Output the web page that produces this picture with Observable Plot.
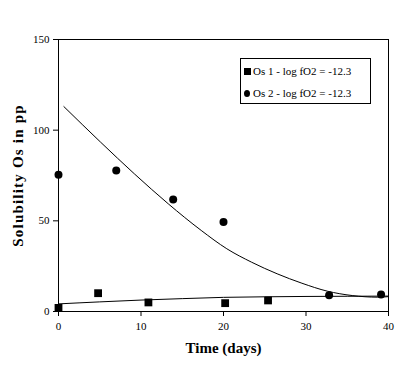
<!DOCTYPE html>
<html><head><meta charset="utf-8">
<script src="https://cdn.jsdelivr.net/npm/d3@7"></script>
<script src="https://cdn.jsdelivr.net/npm/@observablehq/plot@0.6"></script>
<style>
body{margin:0;background:#fff;}
#wrap{position:relative;width:416px;height:372px;font-family:"Liberation Serif","DejaVu Serif",serif;}
#legend{position:absolute;left:240px;top:58px;width:129px;height:44px;border:1px solid #000;background:#fff;font-size:11px;font-family:"Liberation Serif","DejaVu Serif",serif;}
#legend .row{position:absolute;left:3px;white-space:nowrap;line-height:12px;}
.sq{display:inline-block;width:7px;height:7px;background:#000;margin-right:2px;vertical-align:0px;}
.ci{display:inline-block;width:6px;height:7px;border-radius:50%;background:#000;margin-right:3px;vertical-align:0px;}
svg text{font-family:"Liberation Serif","DejaVu Serif",serif;}
</style></head>
<body><div id="wrap"></div>
<script>
const seriesNames = ["Os 1 - log fO2 = -12.3", "Os 2 - log fO2 = -12.3"];
// Os 1 measured points
const os1Days = [0, 4.8, 10.9, 20.2, 25.4];
const os1Values = [2.0, 10.1, 5.0, 4.6, 6.1];
// Os 2 measured points
const os2Days = [0, 7.0, 13.9, 20.0, 32.8, 39.1];
const os2Values = [75.4, 77.7, 61.8, 49.3, 9.0, 9.4];
// fitted curves
const fit1Days = [0, 5, 10, 15, 20, 25, 30, 35, 40];
const fit1Values = [4.2, 5.3, 6.3, 7.1, 7.8, 8.1, 8.3, 8.4, 8.5];
const fit2Days = [0.65, 5.1, 9.2, 13.3, 17.3, 20.4, 23.4, 26.5, 29.5, 32.6, 35.6, 38.7, 40.0];
const fit2Values = [113, 93.4, 75.9, 59.4, 44.7, 34.6, 27.2, 20.8, 15.6, 11.2, 8.8, 7.9, 8.2];
const xTicks = [0, 10, 20, 30, 40];
const yTicks = [0, 50, 100, 150];
const xTitle = "Time (days)";
const yTitle = "Solubility Os in pp";

const pts1 = os1Days.map((d, i) => ({d, v: os1Values[i]}));
const pts2 = os2Days.map((d, i) => ({d, v: os2Values[i]}));
const fit1 = fit1Days.map((d, i) => ({d, v: fit1Values[i]}));
const fit2 = fit2Days.map((d, i) => ({d, v: fit2Values[i]}));

const chart = Plot.plot({
  width: 416, height: 372,
  marginLeft: 58, marginRight: 28, marginTop: 39, marginBottom: 61,
  style: {fontFamily: "Liberation Serif, DejaVu Serif, serif", fontSize: "11px", color: "#000", background: "#fff"},
  x: {domain: [0, 40]},
  y: {domain: [0, 150]},
  marks: [
    Plot.frame({stroke: "#000"}),
    Plot.axisX({ticks: xTicks, tickSize: 5, tickPadding: 6, label: null, fontSize: 11}),
    Plot.axisY({ticks: yTicks, tickSize: 5, tickPadding: 4, label: null, fontSize: 11}),
    Plot.line(fit2, {x: "d", y: "v", curve: "monotone-x", stroke: "#000", strokeWidth: 1}),
    Plot.line(fit1, {x: "d", y: "v", curve: "monotone-x", stroke: "#000", strokeWidth: 1}),
    Plot.dot(pts1, {x: "d", y: "v", symbol: "square", r: 4.4, fill: "#000", stroke: null}),
    Plot.dot(pts2, {x: "d", y: "v", symbol: "circle", r: 4, fill: "#000", stroke: null}),
    Plot.text([xTitle], {frameAnchor: "bottom", dy: 41, text: d => d, fontSize: 15, fontWeight: "bold"}),
    Plot.text([yTitle], {frameAnchor: "left", textAnchor: "middle", dx: -40, rotate: -90, text: d => d, fontSize: 15, fontWeight: "bold"})
  ]
});
chart.querySelectorAll("text").forEach(t => {
  if (t.textContent === yTitle) t.style.letterSpacing = "1.2px";
});
const wrap = document.getElementById("wrap");
wrap.appendChild(chart);
const leg = document.createElement("div");
leg.id = "legend";
leg.innerHTML = `<div class="row" style="top:6px"><span class="sq"></span>${seriesNames[0]}</div>
<div class="row" style="top:28px"><span class="ci"></span>${seriesNames[1]}</div>`;
wrap.appendChild(leg);
</script></body></html>
